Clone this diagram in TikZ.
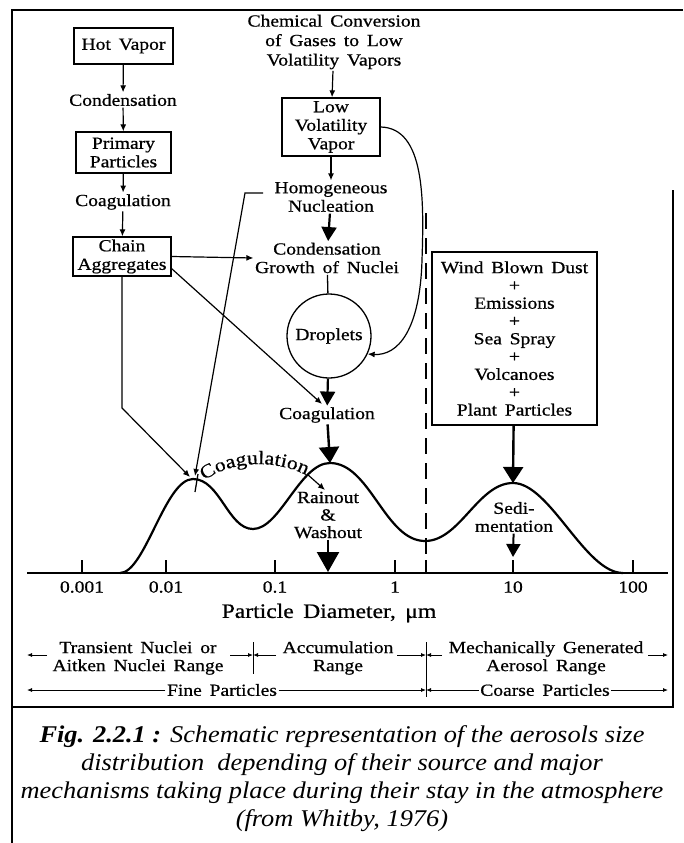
\documentclass[tikz,border=0pt]{standalone}
\usepackage{fontspec}
\setmainfont{Liberation Serif}
\newfontfamily\dfont[FakeStretch=1.15,WordSpace=1.6,FakeBold=0.7]{Liberation Serif}
\newfontfamily\capfont[FakeStretch=1.1]{Liberation Serif}
\usetikzlibrary{arrows.meta,decorations.text}
\newcommand\lblfont{\dfont\fontsize{17}{18.5}\selectfont}
\newcommand\bigfont{\dfont\fontsize{20.5}{22}\selectfont}
\newcommand\rngfont{\dfont\fontsize{17}{18}\selectfont}
\newcommand\arcfont{\dfont\fontsize{19}{19}\selectfont}
\tikzset{
  lbl/.style={font=\lblfont, align=center, inner sep=1.5pt},
  box/.style={draw, line width=1.3pt, align=center, inner sep=0pt, font=\lblfont},
  thinarr/.style={line width=1.2pt, -{Latex[length=7pt,width=6pt]}},
  fatarr/.style={line width=2.4pt, -{Triangle[length=16pt,width=20pt]}},
  midarr/.style={line width=2.2pt, -{Triangle[length=14pt,width=15pt]}},
  smallarr/.style={line width=0.8pt, -{Latex[length=5pt,width=4pt]}},
}
\begin{document}
\begin{tikzpicture}[x=1pt,y=-1pt]
\useasboundingbox (0,0) rectangle (683,843);
% frame
\draw[line width=2.2pt] (12,843) -- (12,10) -- (683,10);
\draw[line width=1.3pt] (12,707) -- (673,707) -- (673,190);

% left column
\node[box, minimum width=99pt, minimum height=36pt] (hv) at (123.5,46) {Hot Vapor};
\node[lbl] (cond) at (123,100) {Condensation};
\node[box, minimum width=95pt, minimum height=41pt] (pp) at (123.5,152.5) {Primary\\Particles};
\node[lbl] (coag1) at (123,202) {Coagulation};
\node[box, minimum width=98pt, minimum height=39pt] (chain) at (122,256.5) {Chain\\Aggregates};
\draw[thinarr] (hv) -- (cond);
\draw[thinarr] (cond) -- (pp);
\draw[thinarr] (pp) -- (coag1);
\draw[thinarr] (coag1) -- (chain);

% middle column
\node[lbl, font=\dfont\fontsize{17}{19.5}\selectfont] (chem) at (334,42) {Chemical Conversion\\of Gases to Low\\Volatility Vapors};
\node[box, minimum width=98pt, minimum height=58pt] (lvv) at (331,127) {Low\\Volatility\\Vapor};
\node[lbl] (homog) at (331,197) {Homogeneous\\Nucleation};
\node[lbl] (growth) at (327,258) {Condensation\\Growth of Nuclei};
\node[draw, circle, line width=1.3pt, minimum size=84pt, inner sep=0pt, font=\lblfont] (drop) at (329,336) {Droplets};
\node[lbl] (coag2) at (327,415) {Coagulation};
\node[lbl, font=\dfont\fontsize{17}{17.5}\selectfont] (rain) at (328,515) {Rainout\\\&\\Washout};
\draw[thinarr] (chem) -- (lvv);
\draw[thinarr] (lvv) -- (homog);
\draw[midarr] (homog) -- (growth);
\draw[line width=1.3pt] (growth) -- (drop);
\draw[midarr] (drop) -- (coag2);

% right box
\node[box, minimum width=165pt, minimum height=173pt, font=\dfont\fontsize{17}{17.8}\selectfont] (wind) at (514.5,338.5)
  {Wind Blown Dust\\+\\Emissions\\+\\Sea Spray\\+\\Volcanoes\\+\\Plant Particles};
\node[lbl, font=\dfont\fontsize{17}{18}\selectfont] (sedi) at (514,517) {Sedi-\\mentation};

% coordinates on curve
\coordinate (pk1a) at (190,477);
\coordinate (pk1b) at (195,476);
\coordinate (pk2) at (330,463);
\coordinate (pk3) at (513,483);
\coordinate (c2tip) at (322,404);
\coordinate (rainax) at (328,572);
\coordinate (sedax) at (513,557);
\coordinate (hl) at (263,193);
\coordinate (cgend) at (307,474);
\coordinate (cgtip) at (325,490);

\draw[fatarr] (coag2) -- (pk2);
\draw[fatarr] (wind) -- (pk3);
\draw[fatarr, -{Triangle[length=20pt,width=22pt]}] (rain) -- (rainax);
\draw[line width=2pt, -{Triangle[length=13pt,width=14pt]}] (sedi) -- (sedax);

% cross connectors
\draw[thinarr] (chain.east) -- (growth.west);
\draw[thinarr] (chain.south) -- (122,408) -- (pk1a);
\draw[thinarr] (hl) -- (245,193) -- (pk1b);
\draw[thinarr] ([yshift=8pt]chain.south east) -- (c2tip);
\draw[thinarr] (lvv.east) .. controls (425,128) and (424,200) .. (422,260)
   .. controls (420,330) and (398,356) .. (drop.-25);

% dashed divider
\draw[line width=1.2pt, dash pattern=on 16pt off 9pt] (426,213) -- (426,573);

% size distribution curve
\draw[line width=2.2pt] (120,573) .. controls (145,573) and (165,479) .. (193,479)
  .. controls (220,479) and (228,529) .. (253,529)
  .. controls (280,529) and (300,463) .. (330,463)
  .. controls (370,463) and (385,541) .. (425,541)
  .. controls (460,541) and (478,483) .. (513,483)
  .. controls (550,483) and (585,573) .. (623,573);
\draw[line width=1.3pt] (198,474) -- (195,492);
% curved label
\path[font=\arcfont, decorate, decoration={text along path, text align=center,
   text={|\arcfont|Coagulation}}]
   (201,483) .. controls (230,460) and (275,458) .. (310,477);
\draw[line width=1.2pt, -{Latex[length=7pt,width=6pt]}] (cgend) -- (cgtip);

% axis
\draw[line width=2pt] (27,573) -- (668,573);
\foreach \x in {82,166,275,395,426,513,633} \draw[line width=1.2pt] (\x,573) -- (\x,560);
\node[lbl] (t1) at (82,587) {0.001};
\node[lbl] (t2) at (166,587) {0.01};
\node[lbl] (t3) at (275,587) {0.1};
\node[lbl] (t4) at (395,587) {1};
\node[lbl] (t5) at (513,587) {10};
\node[lbl] (t6) at (633,587) {100};
\node[lbl, font=\bigfont] (axt) at (329,613) {Particle Diameter, μm};

% ranges
\node[lbl, font=\rngfont] (trans) at (138,658) {Transient Nuclei or\\Aitken Nuclei Range};
\node[lbl, font=\rngfont] (accum) at (338,658) {Accumulation\\Range};
\node[lbl, font=\rngfont] (mech) at (546,658) {Mechanically Generated\\Aerosol Range};
\draw[line width=1pt] (253,642) -- (253,674);
\draw[line width=1pt] (426,642) -- (426,697);
\draw[smallarr] (47,655) -- (27,655);
\draw[smallarr] (230,655) -- (253,655);
\draw[smallarr] (276,655) -- (253,655);
\draw[smallarr] (397,655) -- (426,655);
\draw[smallarr] (442,655) -- (426,655);
\draw[smallarr] (648,655) -- (668,655);
\node[lbl, font=\rngfont] (fine) at (222,690) {Fine Particles};
\node[lbl, font=\rngfont] (coarse) at (545,690) {Coarse Particles};
\draw[smallarr] (fine.west) -- (27,690);
\draw[smallarr] (fine.east) -- (426,690);
\draw[smallarr] (coarse.west) -- (426,690);
\draw[smallarr] (coarse.east) -- (668,690);

% caption
\node[align=center, inner sep=0pt, font=\capfont\itshape\fontsize{24}{28}\selectfont] (cap) at (342,779)
 {{\bfseries Fig. 2.2.1 :} Schematic representation of the aerosols size\\
  distribution\ \ depending of their source and major\\
  mechanisms taking place during their stay in the atmosphere\\
  (from Whitby, 1976)};
\end{tikzpicture}
\end{document}
